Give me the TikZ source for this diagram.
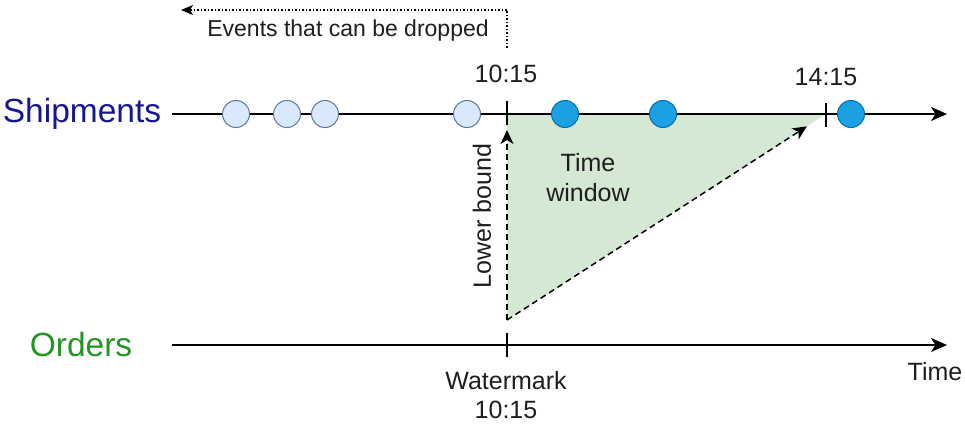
\documentclass[tikz,border=0pt]{standalone}
\usepackage{fontspec}
\setmainfont{Liberation Sans}
\usetikzlibrary{arrows.meta, positioning, calc}
\definecolor{shipblue}{RGB}{22,22,145}
\definecolor{ordergreen}{RGB}{35,150,35}
\definecolor{oldfill}{RGB}{218,232,252}
\definecolor{oldline}{RGB}{95,120,160}
\definecolor{newfill}{RGB}{27,161,226}
\definecolor{newline}{RGB}{0,110,175}
\definecolor{winfill}{RGB}{213,232,212}
\definecolor{txt}{RGB}{30,30,30}

\begin{document}
\begin{tikzpicture}[
        x=1pt, y=-1pt,
        axis/.style={-{Stealth[length=16pt, width=14pt, inset=4.5pt]}, line width=1.8pt},
        bound/.style={-{Stealth[length=14pt, width=13pt, inset=4pt]}, dashed, dash pattern=on 6pt off 4pt, line width=1.5pt},
        dropped/.style={-{Stealth[length=12pt, width=10pt, inset=3pt]}, dotted, line width=1.5pt},
        tick/.style={line width=1.5pt},
        oldev/.style={circle, draw=oldline, fill=oldfill, line width=1pt, minimum size=27pt, inner sep=0pt},
        newev/.style={circle, draw=newline, fill=newfill, line width=1pt, minimum size=27pt, inner sep=0pt},
        stream/.style={font=\fontsize{33.5}{38}\selectfont},
        lbl/.style={text=txt, font=\fontsize{25}{30}\selectfont, align=center, inner sep=0pt}
    ]
    \useasboundingbox (0,0) rectangle (965,428);

    % Coordinates
    \coordinate (s0) at (172,114);
    \coordinate (s1) at (947,114);
    \coordinate (o0) at (172,345);
    \coordinate (o1) at (947,345);
    \coordinate (wm) at (507,320);
    \coordinate (lb) at (507,114);
    \coordinate (ub) at (826,114);
    \coordinate (drop0) at (507,48);
    \coordinate (drop1) at (181,10);

    % Window
    \fill[winfill] (wm) -- (lb) -- (ub) -- cycle;

    % Streams
    \node (ship) [stream, text=shipblue] at (82,114) {Shipments};
    \node (ord) [stream, text=ordergreen] at (81,345) {Orders};
    \draw [axis] (s0) -- (s1);
    \draw [axis] (o0) -- (o1);

    % Ticks
    \draw [tick] (507,101) -- (507,125);
    \draw [tick] (826,103) -- (826,127);
    \draw [tick] (507,333) -- (507,357);

    % Events
    \node (e1) [oldev] at (236,114) {};
    \node (e2) [oldev] at (287,114) {};
    \node (e3) [oldev] at (325,114) {};
    \node (e4) [oldev] at (467,114) {};
    \node (e5) [newev] at (565,114) {};
    \node (e6) [newev] at (663,114) {};
    \node (e7) [newev] at (851,114) {};

    % Labels
    \node (t1015) [lbl] at (506,74) {10:15};
    \node (t1415) [lbl] at (826,77) {14:15};
    \node (drop) [lbl, font=\fontsize{23}{26}\selectfont] at (348,31) {Events that can be dropped};
    \node (win) [lbl] at (588,178) {Time\\window};
    \node (lower) [lbl, rotate=90] at (482,216) {Lower bound};
    \node (water) [lbl, font=\fontsize{25}{29}\selectfont] at (506,395) {Watermark\\10:15};
    \node (time) [lbl] at (935,372) {Time};

    % Arrows
    \draw [bound] (wm) -- ($(lb)+(0,16)$);
    \draw [bound] (wm) -- ($(wm)!0.94!(ub)$);
    \draw [dropped] (drop0) |- (drop1);
\end{tikzpicture}
\end{document}
